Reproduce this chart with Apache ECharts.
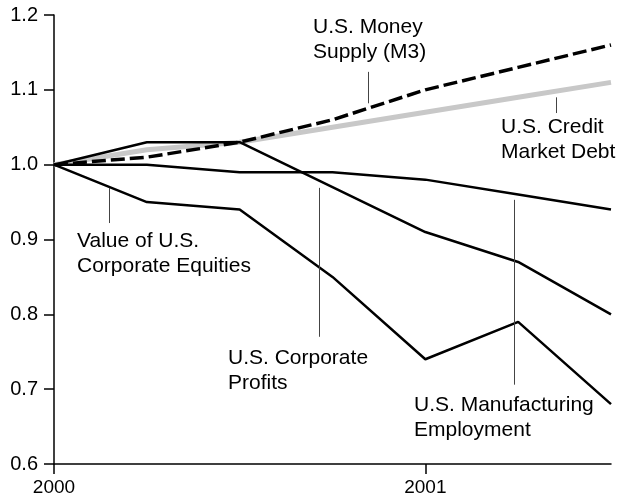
<!DOCTYPE html>
<html>
<head>
<meta charset="utf-8">
<script src="https://cdn.jsdelivr.net/npm/echarts@6/dist/echarts.min.js"></script>
<style>
  html, body { margin: 0; padding: 0; background: #fff; }
  #chart { width: 618px; height: 498px; }
</style>
</head>
<body>
<div id="chart"></div>
<script>
// quarterly index values, 2000 Q1 = 1.0
const quarters = [2000, 2000.25, 2000.5, 2000.75, 2001, 2001.25, 2001.5];
const moneySupply = [1.00, 1.01, 1.03, 1.06, 1.10, 1.13, 1.16];
const creditDebt = [1.00, 1.02, 1.03, 1.05, 1.07, 1.09, 1.11];
const equities = [1.00, 0.95, 0.94, 0.85, 0.74, 0.79, 0.68];
const profits = [1.00, 1.03, 1.03, 0.97, 0.91, 0.87, 0.80];
const employment = [1.00, 1.00, 0.99, 0.99, 0.98, 0.96, 0.94];
const yearTicks = [2000, 2001];

const FONT = 'Liberation Sans, Arial, Helvetica, sans-serif';

const chart = echarts.init(document.getElementById('chart'));

// 指引线 (data coords: x, y from, y to)
function pointer(x, y1, y2) {
  return {
    symbol: ['none', 'none'],
    silent: true,
    animation: false,
    label: { show: false },
    emphasis: { disabled: true },
    lineStyle: { type: 'solid', color: '#444', width: 1 },
    data: [[{ coord: [x, y1] }, { coord: [x, y2] }]]
  };
}

function lineSeries(name, values, style, mark) {
  return {
    name: name,
    type: 'line',
    data: quarters.map((q, i) => [q, values[i]]),
    symbol: 'none',
    silent: true,
    lineStyle: style,
    markLine: mark
  };
}

// 标注文字
function note(left, top, text) {
  return {
    type: 'text',
    left: left,
    top: top,
    silent: true,
    style: {
      text: text,
      font: '21px ' + FONT,
      fill: '#000',
      lineHeight: 25
    }
  };
}

const option = {
  animation: false,
  backgroundColor: '#fff',
  grid: { left: 54, right: 7, top: 15, bottom: 34 },
  xAxis: {
    type: 'value',
    min: 2000,
    max: 2001.5,
    axisLine: { lineStyle: { color: '#000', width: 1.5 } },
    axisTick: { show: true, length: 10, customValues: yearTicks, lineStyle: { color: '#000', width: 1.5 } },
    axisLabel: {
      customValues: yearTicks,
      color: '#000',
      fontSize: 19,
      fontFamily: FONT,
      margin: 14,
      formatter: v => String(Math.round(v))
    },
    splitLine: { show: false }
  },
  yAxis: {
    type: 'value',
    min: 0.6,
    max: 1.2,
    interval: 0.1,
    axisLine: { show: true, lineStyle: { color: '#000', width: 1.5 } },
    axisTick: { show: true, length: 10, lineStyle: { color: '#000', width: 1.5 } },
    axisLabel: {
      color: '#000',
      fontSize: 20,
      fontFamily: FONT,
      margin: 16,
      formatter: v => v.toFixed(1)
    },
    splitLine: { show: false }
  },
  series: [
    lineSeries('U.S. Credit Market Debt', creditDebt, { color: '#c8c8c8', width: 5 },
      pointer(2001.352, 1.090, 1.069)),
    lineSeries('U.S. Corporate Profits', profits, { color: '#000', width: 2.5 },
      pointer(2000.714, 0.969, 0.770)),
    lineSeries('U.S. Manufacturing Employment', employment, { color: '#000', width: 2.5 },
      pointer(2001.239, 0.953, 0.706)),
    lineSeries('Value of U.S. Corporate Equities', equities, { color: '#000', width: 2.5 },
      pointer(2000.148, 0.969, 0.922)),
    lineSeries('U.S. Money Supply (M3)', moneySupply, { color: '#000', width: 3.5, type: [14, 5] },
      pointer(2000.846, 1.124, 1.082))
  ],
  graphic: [
    note(313, 15, 'U.S. Money\nSupply (M3)'),
    note(501, 115, 'U.S. Credit\nMarket Debt'),
    note(77, 229, 'Value of U.S.\nCorporate Equities'),
    note(228, 346, 'U.S. Corporate\nProfits'),
    note(414, 393, 'U.S. Manufacturing\nEmployment')
  ]
};

chart.setOption(option);
</script>
</body>
</html>
